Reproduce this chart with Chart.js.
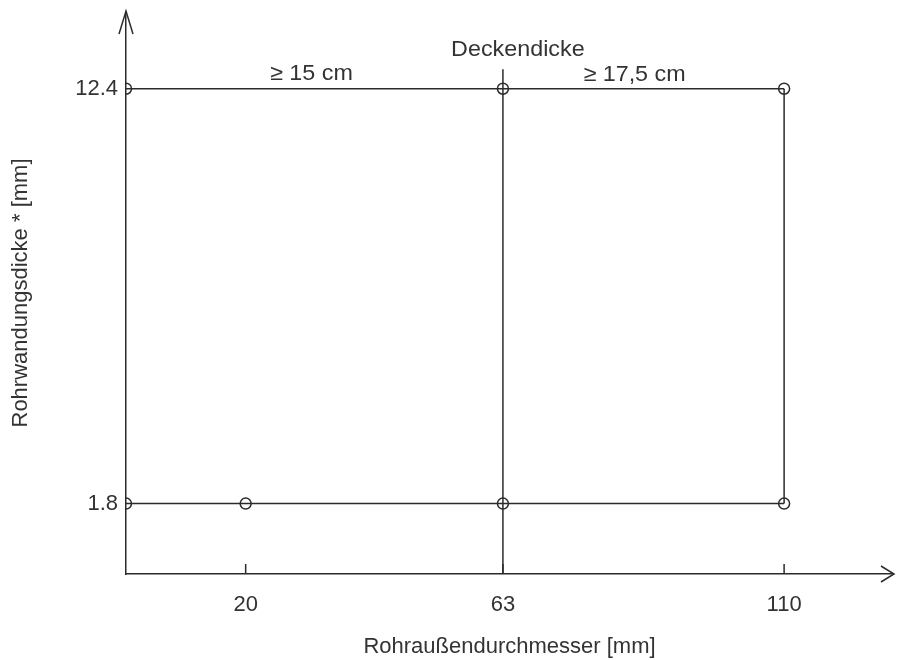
<!DOCTYPE html>
<html>
<head>
<meta charset="utf-8">
<script src="https://cdn.jsdelivr.net/npm/chart.js@4"></script>
<style>
  html, body { margin: 0; padding: 0; background: #fff; }
  #wrap { width: 900px; height: 660px; }
</style>
</head>
<body>
<div id="wrap"><canvas id="c"></canvas></div>
<script>
// values
const xTicks = [20, 63, 110];
const yTicks = [1.8, 12.4];
const topX = [0, 63, 110];          // upper limit, wall 12.4 mm
const topY = [12.4, 12.4, 12.4];
const bottomX = [0, 20, 63, 110];   // lower limit, wall 1.8 mm
const bottomY = [1.8, 1.8, 1.8, 1.8];
const divX = [63, 63];              // divider between the two slab thicknesses
const divY = [0, 12.9];
const rightX = [110, 110];
const rightY = [1.8, 12.4];
const notes = ['Deckendicke', '≥ 15 cm', '≥ 17,5 cm'];
const noteX = [65.5, 31, 85];
const noteY = [13.4, 12.78, 12.75];
const xMax = 128.2, yMax = 14.36;

const INK = '#2b2b2b';
const FONT = { family: "'Liberation Sans', Arial, sans-serif", size: 22 };

const pts = (xs, ys) => xs.map((x, i) => ({ x, y: ys[i] }));

function lineSet(data, radius) {
  return {
    data, showLine: true, borderColor: INK, borderWidth: 1.5,
    pointRadius: radius, pointHoverRadius: radius, pointBorderWidth: 1.5,
    pointBorderColor: INK, pointBackgroundColor: 'rgba(0,0,0,0)',
    clip: 0,
  };
}

// arrows, small axis ticks and the free text
const extras = {
  id: 'extras',
  afterDraw(chart) {
    const { ctx, chartArea: a, scales: { x, y } } = chart;
    ctx.save();
    ctx.strokeStyle = INK;
    ctx.lineWidth = 1.5;
    ctx.beginPath();
    // y arrow
    ctx.moveTo(a.left - 7, a.top + 22); ctx.lineTo(a.left, a.top - 1); ctx.lineTo(a.left + 7, a.top + 22);
    // x arrow
    ctx.moveTo(a.right - 12, a.bottom - 8); ctx.lineTo(a.right + 1, a.bottom); ctx.lineTo(a.right - 12, a.bottom + 8);
    xTicks.forEach(v => {
      const px = x.getPixelForValue(v);
      ctx.moveTo(px, a.bottom); ctx.lineTo(px, a.bottom - 10);
    });
    ctx.stroke();

    ctx.fillStyle = '#333';
    ctx.font = `${FONT.size}px ${FONT.family}`;
    ctx.textAlign = 'center';
    ctx.textBaseline = 'middle';
    notes.forEach((t, i) => {
      const px = x.getPixelForValue(noteX[i]), py = y.getPixelForValue(noteY[i]);
      ctx.save();
      ctx.translate(px, py);
      ctx.scale(1.06, 1);
      ctx.fillText(t, 0, 0);
      ctx.restore();
    });
    ctx.restore();
  }
};

new Chart(document.getElementById('c'), {
  type: 'scatter',
  data: {
    datasets: [
      lineSet(pts(topX, topY), 5.5),
      lineSet(pts(bottomX, bottomY), 5.5),
      lineSet(pts(divX, divY), 0),
      lineSet(pts(rightX, rightY), 0),
    ],
  },
  options: {
    responsive: true, maintainAspectRatio: false, animation: false,
    layout: { padding: { top: 12, right: 4, left: 0, bottom: 0 } },
    plugins: { legend: { display: false }, tooltip: { enabled: false } },
    scales: {
      x: {
        type: 'linear', min: 0, max: xMax,
        afterFit: s => { s.height = 86; s.paddingLeft = 0; s.paddingRight = 0; },
        afterBuildTicks: s => { s.ticks = xTicks.map(v => ({ value: v })); },
        grid: { display: false, drawTicks: false },
        border: { display: true, color: INK, width: 1.5 },
        ticks: { color: '#333', font: FONT, padding: 18, maxRotation: 0, autoSkip: false },
        title: { display: true, text: 'Rohraußendurchmesser [mm]', color: '#333', font: FONT, padding: { top: 0, bottom: 0 } },
      },
      y: {
        type: 'linear', min: 0, max: yMax,
        afterFit: s => { s.width = 126; s.paddingTop = 0; s.paddingBottom = 0; },
        afterBuildTicks: s => { s.ticks = yTicks.map(v => ({ value: v })); },
        grid: { display: false, drawTicks: false },
        border: { display: true, color: INK, width: 1.5 },
        ticks: { color: '#333', font: FONT, padding: 8, autoSkip: false },
        title: { display: true, text: 'Rohrwandungsdicke * [mm]', color: '#333', font: FONT, padding: { top: 8, bottom: 0 } },
      },
    },
  },
  plugins: [extras],
});
</script>
</body>
</html>
